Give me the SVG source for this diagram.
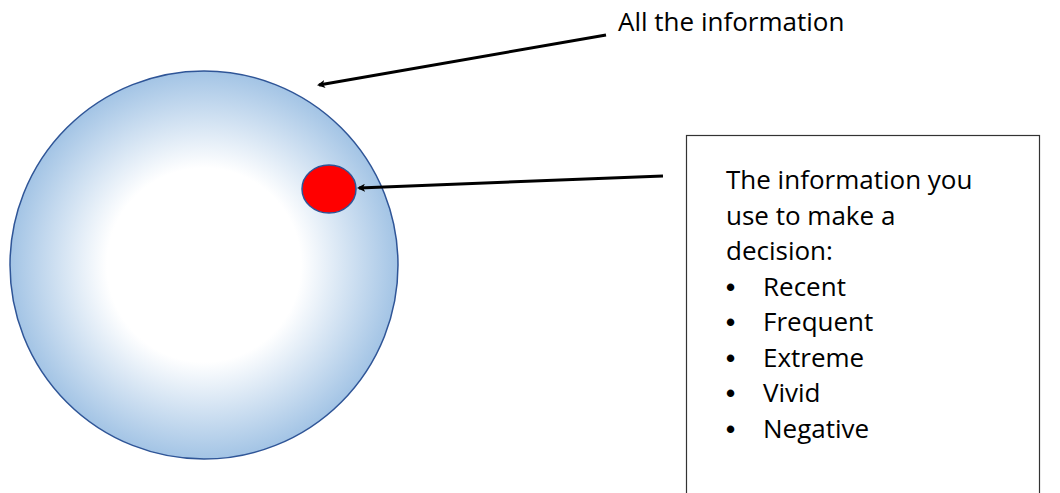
<svg xmlns="http://www.w3.org/2000/svg" width="1060" height="493" viewBox="0 0 1060 493">
<style>
.t{font-family:"Open Sans","Liberation Sans",Arial,sans-serif;font-size:26px;fill:#000}
.b{font-family:"Liberation Sans",Arial,sans-serif;font-size:26px;font-weight:bold;fill:#000}
.c{stroke:#000;stroke-width:3;fill:none}
</style>
<defs>
<radialGradient id="g" cx="50%" cy="50%" r="50%">
<stop offset="0" stop-color="#ffffff"/>
<stop offset="0.5" stop-color="#ffffff"/>
<stop offset="1" stop-color="#a3c4e5"/>
</radialGradient>
<marker id="a" markerWidth="8" markerHeight="8" refX="6" refY="4" orient="auto" markerUnits="userSpaceOnUse" viewBox="0 0 8 8">
<path d="M0,0 L8,4 L0,8 L2,4 Z" fill="#000"/>
</marker>
</defs>
<rect width="1060" height="493" fill="#fff"/>
<g id="all-info">
<ellipse cx="204" cy="265" rx="194" ry="194" fill="url(#g)" stroke="#2f5597" stroke-width="1.5"/>
</g>
<g id="used-info">
<ellipse cx="329" cy="189" rx="27" ry="24" fill="#ff0000" stroke="#2f5597" stroke-width="1.5"/>
</g>
<g id="label-all">
<text class="t" x="618" y="31">All the information</text>
</g>
<g id="box">
<rect x="686.5" y="135.5" width="353" height="370" fill="#fff" stroke="#333" stroke-width="1.2"/>
<text class="t" x="726" y="189">The information you</text>
<text class="t" x="726" y="224.5">use to make a</text>
<text class="t" x="726" y="260">decision:</text>
<text class="b" x="726" y="295.5">•</text><text class="t" x="763" y="295.5">Recent</text>
<text class="b" x="726" y="331">•</text><text class="t" x="763" y="331">Frequent</text>
<text class="b" x="726" y="366.5">•</text><text class="t" x="763" y="366.5">Extreme</text>
<text class="b" x="726" y="402">•</text><text class="t" x="763" y="402">Vivid</text>
<text class="b" x="726" y="437.5">•</text><text class="t" x="763" y="437.5">Negative</text>
</g>
<g id="connectors">
<line class="c" x1="606" y1="35" x2="319" y2="85" marker-end="url(#a)"/>
<line class="c" x1="663" y1="176" x2="359" y2="188" marker-end="url(#a)"/>
</g>
</svg>
